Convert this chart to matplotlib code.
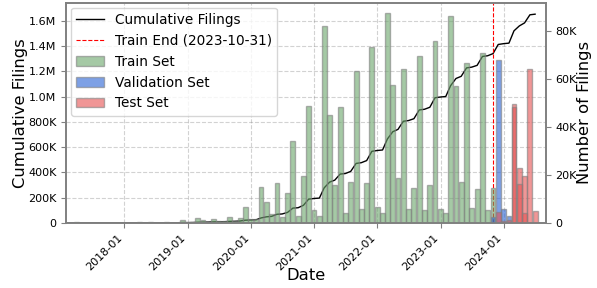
import pandas as pd
import matplotlib
matplotlib.use("Agg")
import matplotlib.pyplot as plt
import matplotlib.dates as mdates
from matplotlib.ticker import FuncFormatter, MultipleLocator

# monthly filing counts (bars sit on month-end dates)
train_start = "2017-01-31"
train_counts = [
    0, 0, 200, 0, 0, 0, 0, 0, 0, 0, 100, 0,                                     # 2017
    0, 0, 300, 0, 300, 0, 0, 500, 0, 0, 1200, 0,                                # 2018
    500, 1900, 1200, 0, 1700, 800, 700, 2600, 800, 2200, 6500, 1500,            # 2019
    1500, 14800, 8800, 3600, 16700, 2400, 12300, 34100, 2900, 19500, 48500, 5400,   # 2020
    2900, 81700, 44800, 15800, 48000, 4300, 16900, 63100, 5700, 16700, 73200, 6800,  # 2021
    4000, 87300, 57300, 18500, 64200, 5700, 14600, 69300, 5400, 15800, 75500, 5700,  # 2022
    4000, 85900, 56800, 17100, 66700, 6100, 14000, 70700, 5400, 14400,               # 2023
]
val_dates = ["2023-10-31", "2023-11-30", "2023-12-31", "2024-01-31"]
val_counts = [2600, 67600, 5700, 2900]
test_dates = ["2023-11-30", "2023-12-31", "2024-01-31", "2024-02-29",
              "2024-03-31", "2024-04-30", "2024-05-31", "2024-06-30"]
test_counts = [4700, 800, 1200, 49400, 22700, 19500, 64200, 5000]
# second test layer that overlaps the first one
test_extra_dates = ["2024-02-29", "2024-03-31", "2024-04-30"]
test_extra_counts = [48000, 16200, 4300]

train_end = "2023-10-31"

train = pd.Series(train_counts, index=pd.date_range(train_start, periods=len(train_counts), freq="ME"))
val = pd.Series(val_counts, index=pd.to_datetime(val_dates))
test = pd.Series(test_counts, index=pd.to_datetime(test_dates))
test_extra = pd.Series(test_extra_counts, index=pd.to_datetime(test_extra_dates))

total = train.add(val, fill_value=0).add(test, fill_value=0).add(test_extra, fill_value=0)
cumulative = total.sort_index().cumsum()

fig, ax1 = plt.subplots(figsize=(5.97, 2.88), dpi=100)
fig.subplots_adjust(left=0.111, right=0.914, top=0.99, bottom=0.226)

ax1.plot(cumulative.index, cumulative.values, color="black", lw=1, label="Cumulative Filings")
ax1.axvline(pd.Timestamp(train_end), color="red", ls="--", lw=0.8,
            label="Train End (%s)" % train_end)
ax1.grid(True, ls="--", color="gray", alpha=0.35, lw=0.8)
ax1.set_ylim(0, 1742000)
ax1.yaxis.set_major_locator(MultipleLocator(200000))

def fmt_big(x, pos):
    if x == 0:
        return "0"
    if x >= 1e6:
        return "%.1fM" % (x / 1e6)
    return "%dK" % round(x / 1e3)

ax1.yaxis.set_major_formatter(FuncFormatter(fmt_big))
ax1.set_ylabel("Cumulative Filings", fontsize=11.8, labelpad=0)
ax1.set_xlabel("Date", fontsize=11.8, labelpad=-3)

ax2 = ax1.twinx()
w = 28
ax2.bar(train.index, train.values, width=w, color="#6aa56a", alpha=0.6,
        edgecolor="gray", lw=1, label="Train Set")
ax2.bar(val.index, val.values, width=w, color="#2661d5", alpha=0.6,
        edgecolor="gray", lw=1, label="Validation Set")
ax2.bar(test.index, test.values, width=w, color="#e65050", alpha=0.6,
        edgecolor="gray", lw=1, label="Test Set")
ax2.bar(test_extra.index, test_extra.values, width=w, color="#e65050", alpha=0.6,
        edgecolor="gray", lw=1)
ax2.set_ylim(0, 91500)
ax2.yaxis.set_major_locator(MultipleLocator(20000))
ax2.yaxis.set_major_formatter(FuncFormatter(fmt_big))
ax2.set_ylabel("Number of Filings", fontsize=11.8, labelpad=0.5)

ax1.set_xlim(pd.Timestamp("2017-01-30"), pd.Timestamp("2024-08-30"))
ax1.xaxis.set_major_locator(mdates.YearLocator())
ax1.xaxis.set_major_formatter(mdates.DateFormatter("%Y-%m"))
for lab in ax1.get_xticklabels():
    lab.set_rotation(45)
    lab.set_ha("right")

for ax in (ax1, ax2):
    ax.tick_params(labelsize=8, color="gray")
    for s in ax.spines.values():
        s.set_color("gray")
        s.set_linewidth(1.2)

h1, l1 = ax1.get_legend_handles_labels()
h2, l2 = ax2.get_legend_handles_labels()
ax2.legend(h1 + h2, l1 + l2, loc="upper left", fontsize=9.8, borderaxespad=0.35)

plt.savefig("out.png")
